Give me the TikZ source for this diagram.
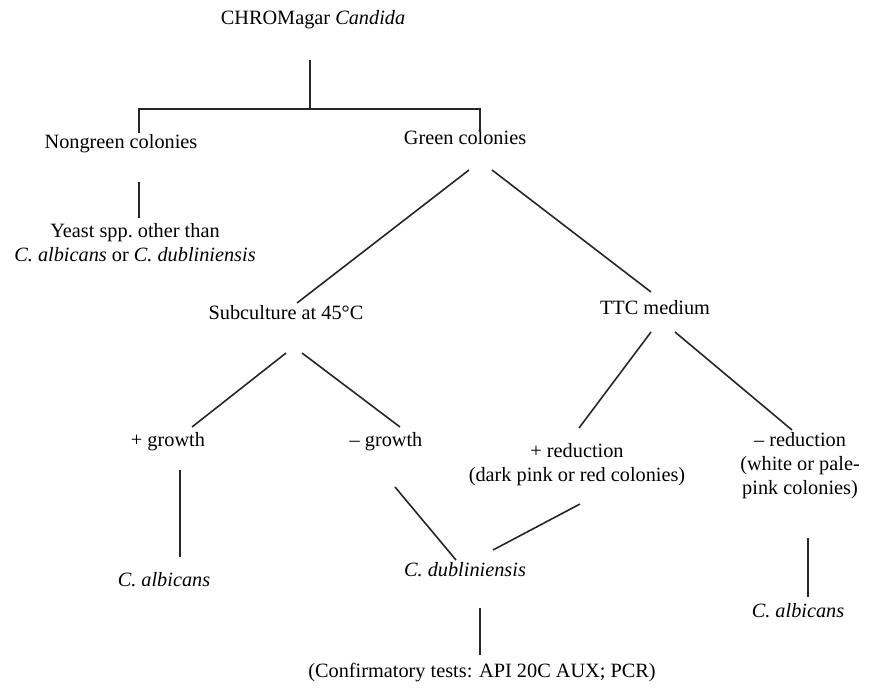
\documentclass[tikz,border=0pt]{standalone}
\usepackage{fontspec}
\setmainfont{Liberation Serif}
\usetikzlibrary{positioning}

\begin{document}
\begin{tikzpicture}[x=1pt,y=-1pt,
		lbl/.style={font=\fontsize{20.3}{24}\selectfont,align=center,inner sep=0pt},
		link/.style={line width=1.6pt,draw=black!85}]
		\useasboundingbox (0,0) rectangle (869,688);
		% nodes
		\node[lbl] (top) at (313,20) {CHROMagar \textit{Candida}};
		\node[lbl] (nongreen) at (121,144) {Nongreen colonies};
		\node[lbl] (yeast) at (135,243) {Yeast spp.\ other than\\\textit{C. albicans} or \textit{C. dubliniensis}};
		\node[lbl] (green) at (465,138) {Green colonies};
		\node[lbl] (sub) at (286,313) {Subculture at 45°C};
		\node[lbl] (ttc) at (655,308) {TTC medium};
		\node[lbl] (pgrowth) at (168,442) {+ growth};
		\node[lbl] (mgrowth) at (386,442) {– growth};
		\node[lbl] (pred) at (577,465) {+ reduction\\(dark pink or red colonies)};
		\node[lbl] (mred) at (800,466) {– reduction\\(white or pale-\\pink colonies)};
		\node[lbl] (albA) at (164,580) {\textit{C. albicans}};
		\node[lbl] (dub) at (465,570) {\textit{C. dubliniensis}};
		\node[lbl] (albB) at (798,611) {\textit{C. albicans}};
		\node[lbl] (conf) at (482,673) {(Confirmatory tests: API 20C AUX; PCR)};
		% connectors
		\draw[link] ([shift={(-3,40)}]top.center) -- ([shift={(-3,89)}]top.center);
		\draw[link] ([shift={(18,-11)}]nongreen.center) |- ([shift={(15,-29)}]green.center) -- ([shift={(15,-6)}]green.center);
		\draw[link] ([shift={(18,38)}]nongreen.center) -- ([shift={(4,-25)}]yeast.center);
		\draw[link] ([shift={(4,32)}]green.center) -- ([shift={(11,-10)}]sub.center);
		\draw[link] ([shift={(27,32)}]green.center) -- ([shift={(-4,-16)}]ttc.center);
		\draw[link] ([shift={(0,40)}]sub.center) -- ([shift={(24,-15)}]pgrowth.center);
		\draw[link] ([shift={(16,40)}]sub.center) -- ([shift={(14,-15)}]mgrowth.center);
		\draw[link] ([shift={(-4,24)}]ttc.center) -- ([shift={(2,-37)}]pred.center);
		\draw[link] ([shift={(20,24)}]ttc.center) -- ([shift={(-8,-36)}]mred.center);
		\draw[link] ([shift={(12,28)}]pgrowth.center) -- ([shift={(16,-23)}]albA.center);
		\draw[link] ([shift={(9,45)}]mgrowth.center) -- ([shift={(-9,-10)}]dub.center);
		\draw[link] ([shift={(3,39)}]pred.center) -- ([shift={(28,-20)}]dub.center);
		\draw[link] ([shift={(15,38)}]dub.center) -- ([shift={(-2,-18)}]conf.center);
		\draw[link] ([shift={(8,72)}]mred.center) -- ([shift={(10,-14)}]albB.center);
\end{tikzpicture}
\end{document}
